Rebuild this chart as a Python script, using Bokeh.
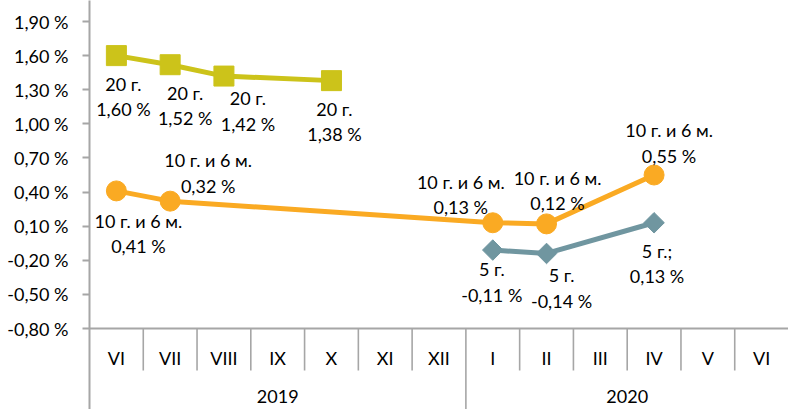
from bokeh.plotting import figure
from bokeh.models import Range1d, FixedTicker, CustomJSTickFormatter, Span
from bokeh.core.properties import value
from bokeh.embed import file_html
from bokeh.resources import INLINE

# ---------------- data ----------------
months = ["VI", "VII", "VIII", "IX", "X", "XI", "XII", "I", "II", "III", "IV", "V", "VI"]
years = ["2019", "2020"]
year_counts = [7, 6]

y_ticks = [-0.80, -0.50, -0.20, 0.10, 0.40, 0.70, 1.00, 1.30, 1.60, 1.90]

s20 = [1.60, 1.52, 1.42, None, 1.38, None, None, None, None, None, None, None, None]
s10 = [0.41, 0.32, None, None, None, None, None, 0.13, 0.12, None, 0.55, None, None]
s5 = [None, None, None, None, None, None, None, -0.11, -0.14, None, 0.13, None, None]

n20 = ["20 г."] * 4
n10 = ["10 г. и 6 м."] * 5
n5 = ["5 г.", "5 г.", "5 г.;"]

# label placement (pixels, relative to the point: dx right, dy down)
off20 = [(7, 28), (15, 28), (24, 22), (3, 28)]
off10 = [(22, 30), (38, -41), (-32, -41), (11, -46), (15, -45)]
off5 = [(-1, 19), (15, 22), (3, 28)]

# ---------------- layout ----------------
Y_MIN, Y_MAX = y_ticks[0], y_ticks[-1]
VAL_PX = 307.0                 # pixels between min and max tick
UPP_Y = (Y_MAX - Y_MIN) / VAL_PX
W, H = 788, 409
LEFT = 89
FRAME_W = W - LEFT
N = len(months)
UPP_X = N / FRAME_W
TOP_PAD = 21
BOTTOM_PAD = H - TOP_PAD - VAL_PX
LINE_GAP = 25.5

FONT = value("Lato")
FS = "18px"
AXIS_COL = "#A6A6A6"

y0 = Y_MIN - BOTTOM_PAD * UPP_Y
y1 = Y_MAX + TOP_PAD * UPP_Y

p = figure(width=W, height=H, output_backend="svg", toolbar_location=None,
           x_range=Range1d(0, N), y_range=Range1d(y0, y1),
           x_axis_location=None,
           min_border_left=LEFT, min_border_right=0, min_border_top=0, min_border_bottom=0)
p.outline_line_color = None
p.grid.visible = False
p.background_fill_color = "white"

yax = p.yaxis[0]
yax.ticker = FixedTicker(ticks=y_ticks)
yax.formatter = CustomJSTickFormatter(code="return tick.toFixed(2).replace('.', ',') + ' %';")
yax.major_label_text_font = "Lato"
yax.major_label_text_font_size = FS
yax.major_label_text_color = "black"
yax.axis_line_color = AXIS_COL
yax.axis_line_width = 2
yax.major_tick_line_color = AXIS_COL
yax.major_tick_line_width = 2
yax.major_tick_out = 7
yax.major_tick_in = 0
yax.minor_tick_line_color = None
yax.major_label_standoff = 14

# baseline
p.add_layout(Span(location=Y_MIN, dimension="width", line_color=AXIS_COL, line_width=2))

# category separators
bounds = []
c = 0
for cnt in year_counts[:-1]:
    c += cnt
    bounds.append(c)
sx, sy0, sy1 = [], [], []
for i in range(1, N):
    sx.append(i)
    sy0.append(Y_MIN)
    if i in bounds:
        sy1.append(y0)
    else:
        sy1.append(Y_MIN - 42 * UPP_Y)
p.segment(x0=sx, y0=sy0, x1=sx, y1=sy1, line_color=AXIS_COL, line_width=1.6)

# month labels
p.text(x=[i + 0.5 for i in range(N)], y=[Y_MIN - 29 * UPP_Y] * N, text=months,
       text_font=FONT, text_font_size=FS, text_align="center", text_baseline="middle",
       text_color="black")
# year labels
yx = []
c = 0
for cnt in year_counts:
    yx.append(c + cnt / 2)
    c += cnt
p.text(x=yx, y=[Y_MIN - 68 * UPP_Y] * len(years), text=years,
       text_font=FONT, text_font_size=FS, text_align="center", text_baseline="middle",
       text_color="black")


def series(vals, names, offs, color, marker, size, angle=0.0):
    xs = [i + 0.5 for i, v in enumerate(vals) if v is not None]
    ys = [v for v in vals if v is not None]
    p.line(xs, ys, line_color=color, line_width=5)
    p.scatter(xs, ys, marker=marker, size=size, angle=angle, fill_color=color,
              line_color=color)
    lx, ly1, ly2, t1, t2 = [], [], [], [], []
    for x, y, nm, (dx, dy) in zip(xs, ys, names, offs):
        lx.append(x + dx * UPP_X)
        ly1.append(y - dy * UPP_Y)
        ly2.append(y - (dy + LINE_GAP) * UPP_Y)
        t1.append(nm)
        t2.append(f"{y:.2f}".replace(".", ",") + " %")
    return lx, ly1, ly2, t1, t2


labels = []
labels.append(series(s20, n20, off20, "#CCC31A", "square", 20))
labels.append(series(s10, n10, off10, "#FAAA23", "circle", 20))
labels.append(series(s5, n5, off5, "#7096A0", "square", 14.5, angle=0.785398))

for lx, ly1, ly2, t1, t2 in labels:
    p.text(x=lx + lx, y=ly1 + ly2, text=t1 + t2, text_font=FONT, text_font_size=FS,
           text_align="center", text_baseline="middle", text_color="black")

open("out.html", "w").write(file_html(p, INLINE))
